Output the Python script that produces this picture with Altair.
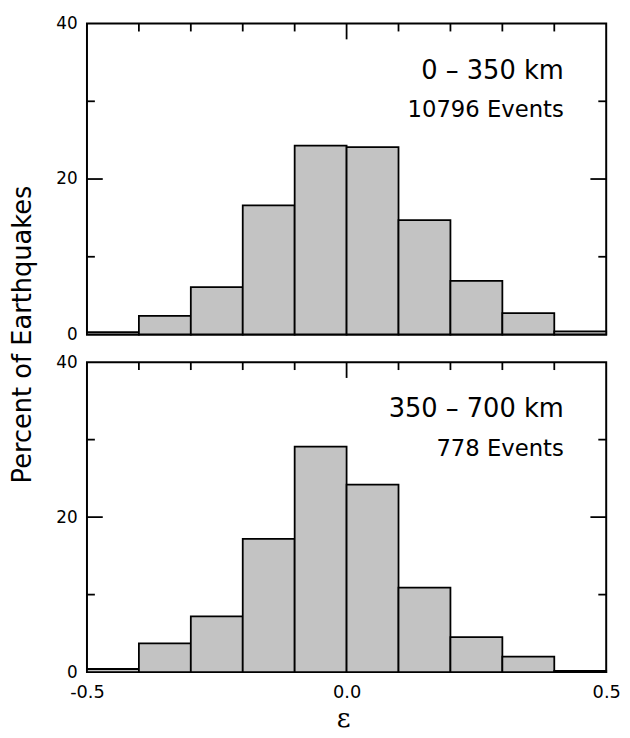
import altair as alt
import pandas as pd

# ---- data ----
bin_start = [-0.5, -0.4, -0.3, -0.2, -0.1, 0.0, 0.1, 0.2, 0.3, 0.4]
bin_end = [-0.4, -0.3, -0.2, -0.1, 0.0, 0.1, 0.2, 0.3, 0.4, 0.5]
pct_shallow = [0.3, 2.4, 6.1, 16.6, 24.3, 24.1, 14.7, 6.9, 2.75, 0.4]
pct_deep = [0.4, 3.7, 7.2, 17.2, 29.1, 24.2, 10.9, 4.5, 2.0, 0.15]
panel_depth = ["0 \u2013 350 km", "350 \u2013 700 km"]
panel_events = ["10796 Events", "778 Events"]
x_tick_labels = [-0.5, 0.0, 0.5]
y_tick_labels = [0, 20, 40]
x_minor_ticks = [-0.4, -0.3, -0.2, -0.1, 0.1, 0.2, 0.3, 0.4]
x_major_ticks = [0.0]
y_minor_ticks = [10, 30]
y_major_ticks = [20]
y_title = ["Percent of Earthquakes"]
x_title = ["\u03b5"]

W = 526
H_TOP = 315
H_BOT = 314
FONT = "DejaVu Sans"
FILL = "#c3c3c3"

xscale = alt.Scale(domain=[-0.5, 0.5], nice=False, zero=False)
yscale = alt.Scale(domain=[0, 40], nice=False, zero=True)

xaxis_labels = alt.Axis(
    values=x_tick_labels,
    labelExpr="datum.value < 0 ? '-' + format(-datum.value, '.1f') : format(datum.value, '.1f')",
    ticks=False, domain=False, grid=False, labelPadding=12, labelFontSize=18,
    labelFont=FONT, labelColor="black", labelFlush=False, labelOverlap=False,
    labelBound=False, title=None,
)
yaxis = alt.Axis(
    values=y_tick_labels, ticks=False, domain=False, grid=False, labelPadding=10,
    labelFontSize=17, labelFont=FONT, labelColor="black", labelFlush=False,
    labelOverlap=False, labelBound=False, title=None,
)


def text_layer(txt, x, y, size, align="right", angle=0, baseline="alphabetic", font=FONT):
    return alt.Chart(pd.DataFrame({"label": [txt]})).mark_text(
        align=align, baseline=baseline, fontSize=size, font=font, color="black", angle=angle
    ).encode(x=alt.value(x), y=alt.value(y), text="label:N")


def panel(values, idx, height, show_x):
    xaxis = xaxis_labels if show_x else None
    df = pd.DataFrame({"start": bin_start, "end": bin_end, "pct": values})

    layers = []
    # inward x ticks on top edge
    for ticks, ln in ((x_minor_ticks, 8), (x_major_ticks, 16)):
        layers.append(
            alt.Chart(pd.DataFrame({"start": ticks})).mark_rule(color="black", strokeWidth=1.8).encode(
                x=alt.X("start:Q", scale=xscale, axis=xaxis),
                y=alt.value(0), y2=alt.value(ln),
            )
        )
    # inward y ticks on both sides
    for ticks, ln in ((y_minor_ticks, 8), (y_major_ticks, 16)):
        tdf = pd.DataFrame({"pct": ticks})
        layers.append(
            alt.Chart(tdf).mark_rule(color="black", strokeWidth=1.8).encode(
                y=alt.Y("pct:Q", scale=yscale, axis=yaxis),
                x=alt.value(0), x2=alt.value(ln),
            )
        )
        layers.append(
            alt.Chart(tdf).mark_rule(color="black", strokeWidth=1.8).encode(
                y=alt.Y("pct:Q", scale=yscale, axis=yaxis),
                x=alt.value(W), x2=alt.value(W - ln),
            )
        )
    bars = alt.Chart(df).mark_bar(fill=FILL, stroke="black", strokeWidth=1.8).encode(
        x=alt.X("start:Q", scale=xscale, axis=xaxis),
        x2="end:Q",
        y=alt.Y("pct:Q", scale=yscale, axis=yaxis),
        y2=alt.datum(0),
    )
    layers.append(bars)
    layers.append(text_layer(panel_depth[idx], 483, 56, 26))
    layers.append(text_layer(panel_events[idx], 483, 95, 23))
    if idx == 0:
        layers.append(text_layer(y_title[0], -65, height, 26, align="center", angle=270, baseline="middle"))
    else:
        layers.append(text_layer(x_title[0], 260, 370, 27, align="center", font="DejaVu Serif"))
    return alt.layer(*layers).properties(width=W, height=height)


top = panel(pct_shallow, 0, H_TOP, False)
bottom = panel(pct_deep, 1, H_BOT, True)

chart = alt.vconcat(top, bottom, spacing=28, bounds="flush").properties(
    padding={"left": 1, "top": 1, "right": 0, "bottom": 0}
).configure_view(stroke="black", strokeWidth=2).configure_axis(
    labelFont=FONT, labelColor="black"
)

chart.save("out.html", embed_options={"renderer": "svg", "actions": False})
